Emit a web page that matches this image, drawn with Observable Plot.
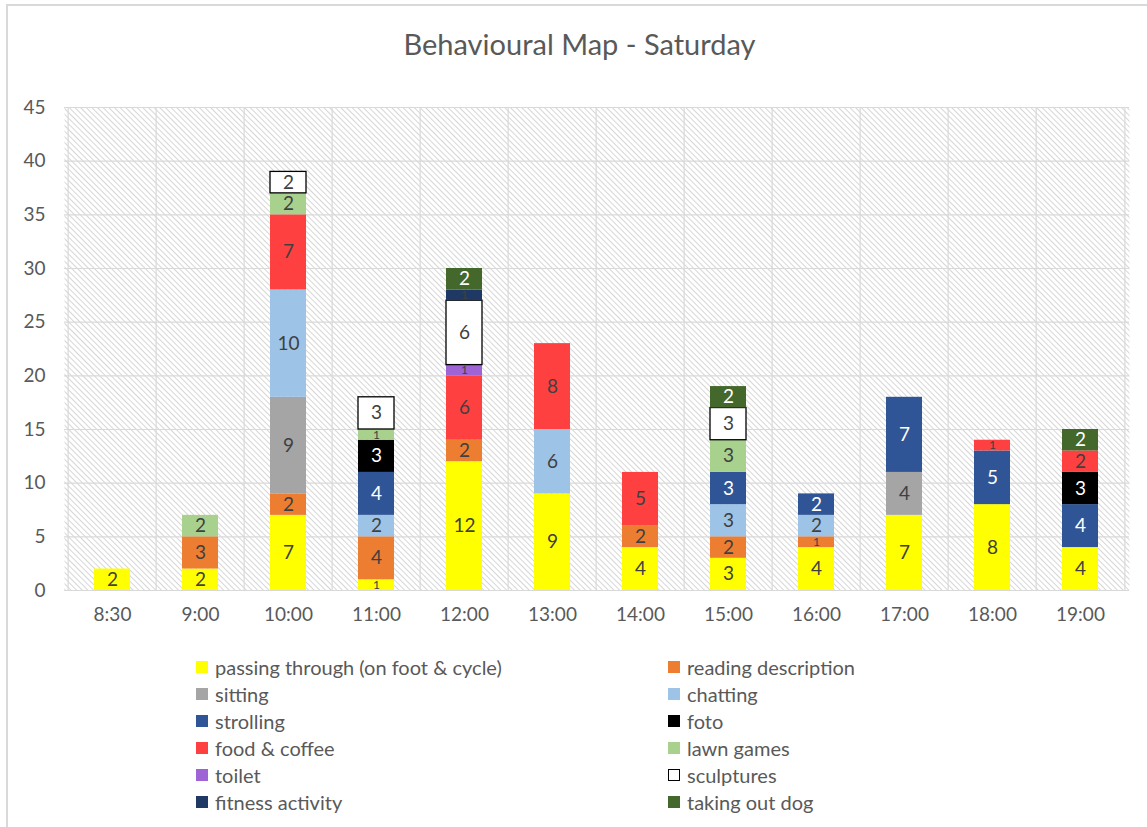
<!DOCTYPE html>
<html>
<head>
<meta charset="utf-8">
<script src="https://cdn.jsdelivr.net/npm/d3@7"></script>
<script src="https://cdn.jsdelivr.net/npm/@observablehq/plot@0.6"></script>
<style>
  html, body { margin: 0; padding: 0; background: #fff; }
  #wrap { position: relative; width: 1147px; height: 827px; overflow: hidden; font-family: Lato, "Open Sans", sans-serif; color: #595959; }
  #border { position: absolute; left: 6px; top: 4px; width: 1160px; height: 840px; border: 2px solid #d9d9d9; box-sizing: border-box; }
  #title { position: absolute; top: 26px; left: 6px; width: 1147px; text-align: center; font-size: 29px; color: #595959; }
  #chart { position: absolute; top: 90px; left: 0; }
  #legend { position: absolute; top: 653px; left: 196px; display: grid; grid-template-columns: 472px 300px; row-gap: 0; }
  .item { display: flex; align-items: center; height: 27px; font-size: 20px; color: #595959; white-space: nowrap; }
  .sw { width: 12px; height: 12px; margin-right: 7px; box-sizing: border-box; flex: none; }
</style>
</head>
<body>
<div id="wrap">
  <div id="border"></div>
  <div id="title">Behavioural Map - Saturday</div>
  <div id="chart"></div>
  <div id="legend"></div>
</div>
<script>
const times = ["8:30","9:00","10:00","11:00","12:00","13:00","14:00","15:00","16:00","17:00","18:00","19:00"];
const activities = ["passing through (on foot & cycle)","reading description","sitting","chatting","strolling","foto","food &  coffee","lawn games","toilet","sculptures","fitness activity","taking out dog"];
const colors = ["#FFFF00","#ED7D31","#A5A5A5","#9DC3E6","#2F5597","#000000","#FF4040","#A9D18E","#9E64D6","#FFFFFF","#203864","#44672C"];
const lightText = ["strolling","foto","taking out dog"];
const yTicks = [0,5,10,15,20,25,30,35,40,45];

// values per activity, aligned with times
const passing   = [2,2,7,1,12,9,4,3,4,7,8,4];
const reading   = [0,3,2,4,2,0,2,2,1,0,0,0];
const sitting   = [0,0,9,0,0,0,0,0,0,4,0,0];
const chatting  = [0,0,10,2,0,6,0,3,2,0,0,0];
const strolling = [0,0,0,4,0,0,0,3,2,7,5,4];
const foto      = [0,0,0,3,0,0,0,0,0,0,0,3];
const food      = [0,0,7,0,6,8,5,0,0,0,1,2];
const lawn      = [0,2,2,1,0,0,0,3,0,0,0,0];
const toilet    = [0,0,0,0,1,0,0,0,0,0,0,0];
const sculptures= [0,0,2,3,6,0,0,3,0,0,0,0];
const fitness   = [0,0,0,0,1,0,0,0,0,0,0,0];
const dog       = [0,0,0,0,2,0,0,2,0,0,0,2];

const series = [passing, reading, sitting, chatting, strolling, foto, food, lawn, toilet, sculptures, fitness, dog];
const rows = [];
times.forEach((t, i) => {
  series.forEach((s, j) => {
    if (s[i] > 0) rows.push({time: t, activity: activities[j], value: s[i]});
  });
});

const step = (1129 - 64) / times.length;

const plot = Plot.plot({
  width: 1147,
  height: 540,
  marginLeft: 64,
  marginRight: 18,
  marginTop: 17,
  marginBottom: 40,
  style: {fontFamily: "Lato, 'Open Sans', sans-serif", fontSize: "19px", color: "#595959", background: "transparent"},
  x: {domain: times, paddingInner: 0.59, paddingOuter: 0.295, label: null, tickSize: 0, tickPadding: 17},
  y: {domain: [0, 45], ticks: yTicks, label: null, tickSize: 0, tickPadding: 19},
  color: {domain: activities, range: colors},
  marks: [
    Plot.frame({fill: "url(#hatch)", stroke: "none"}),
    Plot.ruleY(yTicks, {stroke: "#d9d9d9", strokeWidth: 1.2}),
    Plot.ruleX(times, {x: d => d, dx: -step / 2, stroke: "#d9d9d9", strokeWidth: 1.2}),
    Plot.ruleX([times[times.length - 1]], {x: d => d, dx: step / 2, stroke: "#d9d9d9", strokeWidth: 1.2}),
    Plot.barY(rows, Plot.stackY({
      x: "time", y: "value", fill: "activity", z: "activity",
      stroke: d => d.activity === "sculptures" ? "#000" : "none",
      strokeWidth: 1.3
    })),
    Plot.text(rows, Plot.stackY({
      x: "time", y: "value", z: "activity", text: d => String(d.value),
      fill: d => lightText.includes(d.activity) ? "#ffffff" : "#404040",
      fontSize: d => d.value === 1 ? 12 : 19
    }))
  ]
});

const ns = "http://www.w3.org/2000/svg";
const defs = document.createElementNS(ns, "defs");
defs.innerHTML = '<pattern id="hatch" patternUnits="userSpaceOnUse" width="4" height="4" patternTransform="rotate(-45)"><rect width="4" height="4" fill="#ffffff"/><line x1="0" y1="0" x2="0" y2="4" stroke="#cfcfcf" stroke-width="1.7"/></pattern>';
plot.insertBefore(defs, plot.firstChild);
plot.setAttribute("fill", "#595959");
plot.querySelectorAll("[aria-label$='tick label']").forEach(g => g.setAttribute("fill", "#595959"));
document.getElementById("chart").appendChild(plot);

// legend: two columns, row-major
const legend = document.getElementById("legend");
activities.forEach((a, i) => {
  const item = document.createElement("div");
  item.className = "item";
  const sw = document.createElement("span");
  sw.className = "sw";
  sw.style.background = colors[i];
  if (a === "sculptures") sw.style.border = "1.5px solid #000";
  item.appendChild(sw);
  item.appendChild(document.createTextNode(a));
  legend.appendChild(item);
});
</script>
</body>
</html>
